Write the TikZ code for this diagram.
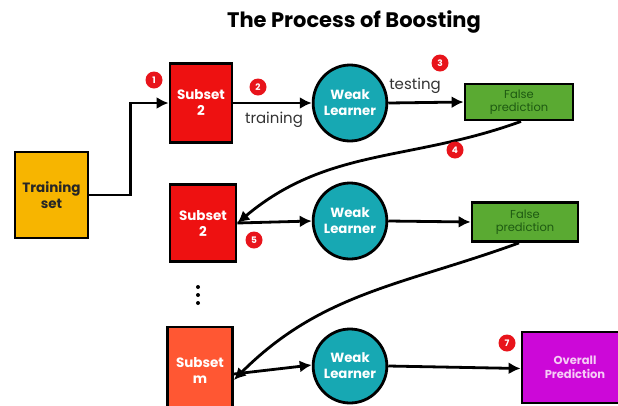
\documentclass[tikz,border=0pt]{standalone}
\usepackage{fontspec}
\setmainfont{Poppins}
\usetikzlibrary{arrows.meta,shapes.geometric}
\definecolor{trainY}{HTML}{F7B500}
\definecolor{subRed}{HTML}{EE1111}
\definecolor{subOrange}{HTML}{FF5733}
\definecolor{learnTeal}{HTML}{17A8B3}
\definecolor{falseGreen}{HTML}{5AAA32}
\definecolor{falseText}{HTML}{1E5A12}
\definecolor{overallMag}{HTML}{CC08D8}
\definecolor{overallText}{HTML}{F6CCF6}
\definecolor{badgeRed}{HTML}{E8141B}
\tikzset{
  box/.style={draw=black, line width=2.8pt, align=center, inner sep=0pt,
    font=\bfseries\fontsize{13.5}{16}\selectfont},
  learner/.style={draw=black, line width=2.8pt, ellipse, fill=learnTeal,
    text=white, align=center, inner sep=0pt,
    font=\bfseries\fontsize{13.3}{16}\selectfont},
  badge/.style={circle, fill=badgeRed, text=white, inner sep=0pt,
    minimum size=17pt, font=\bfseries\fontsize{9}{10}\selectfont},
  flow/.style={line width=2.8pt, -{Latex[length=12pt,width=12pt]}},
  lbl/.style={font=\fontsize{15}{17}\selectfont, text=black!80}
}
\begin{document}
\begin{tikzpicture}[x=1pt, y=-1pt]
\useasboundingbox (0,0) rectangle (618,405);
\clip (0,0) rectangle (618,405);

% title
\node[font=\bfseries\fontsize{21}{24}\selectfont] (title) at (354,22) {The Process of Boosting};

% training set
\node[box, fill=trainY, text=black!85, minimum width=73pt, minimum height=86pt]
  (train) at (51.5,195) {Training\\set};

% first round
\node[box, fill=subRed, text=white, minimum width=62pt, minimum height=79pt]
  (sub1) at (201,103) {Subset\\2};
\node[learner, minimum width=66pt, minimum height=76pt] (wl1) at (350,103) {Weak\\Learner};
\node[box, fill=falseGreen, text=falseText, minimum width=108pt, minimum height=36pt,
  font=\fontsize{11.5}{13}\selectfont] (fp1) at (519,102) {False\\prediction};

% second round
\node[box, fill=subRed, text=white, minimum width=66pt, minimum height=77pt]
  (sub2) at (203,223) {Subset\\2};
\node[learner, minimum width=66pt, minimum height=76pt] (wl2) at (350,221) {Weak\\Learner};
\node[box, fill=falseGreen, text=falseText, minimum width=106pt, minimum height=39pt,
  font=\fontsize{11.5}{13}\selectfont] (fp2) at (525,222) {False\\prediction};

% ellipsis between rounds
\foreach \yy [count=\i] in {287,295,303} {
  \fill (198,\yy) circle (2pt) coordinate (dot\i);
}

% last round
\node[box, fill=subOrange, text=white, minimum width=65pt, minimum height=86pt]
  (subm) at (200,370) {Subset\\m};
\node[learner, minimum width=66pt, minimum height=74pt] (wl3) at (350,366) {Weak\\Learner};
\node[box, fill=overallMag, text=overallText, minimum width=106pt, minimum height=71pt,
  font=\bfseries\fontsize{11.5}{14}\selectfont] (ovr) at (575,367.5) {Overall\\Prediction};

% connectors
\draw[flow] (train.east) -- ++(41,0) |- (sub1.west);
\draw[flow] (sub1.east) -- (wl1.west);
\draw[flow] (wl1.east) -- (fp1.west);
\coordinate (fp1s) at ([xshift=2pt]fp1.south);
\draw[flow] (fp1s) to[out=200, in=40] (sub2.east);
\draw[flow] (sub2.east) -- (wl2.west);
\draw[flow] (wl2.east) -- (fp2.west);
\coordinate (fp2s) at ([xshift=-6pt]fp2.south);
\draw[flow] (fp2s) to[out=200, in=45] ([yshift=-10pt]subm.east);
\draw[flow] ([yshift=-4pt]subm.east) -- ([yshift=1pt]wl3.west);
\draw[flow] (wl3.east) -- ([yshift=-1pt]ovr.west);

% edge labels
\node[lbl] (ltrain) at (274,120) {training};
\node[lbl] (ltest) at (415,86) {testing};

% step badges
\node[badge] (b1) at (154,80) {1};
\node[badge] (b2) at (258,87) {2};
\node[badge] (b3) at (440,63) {3};
\node[badge] (b4) at (455,150) {4};
\node[badge] (b5) at (254,240) {5};
\node[badge] (b7) at (507,343) {7};
\end{tikzpicture}
\end{document}
